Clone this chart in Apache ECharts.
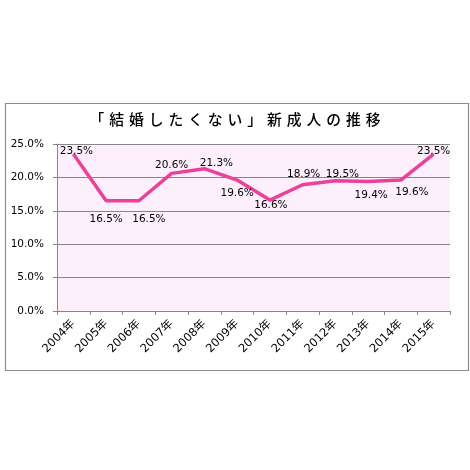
<!DOCTYPE html>
<html>
<head>
<meta charset="utf-8">
<script src="https://cdn.jsdelivr.net/npm/echarts@6/dist/echarts.min.js"></script>
<style>
  html, body { margin: 0; padding: 0; background: #fff; }
  #chart { width: 470px; height: 470px; }
</style>
</head>
<body>
<div id="chart"></div>
<script>
const titleChars = '「結婚したくない」新成人の推移';
const years = ['2004年', '2005年', '2006年', '2007年', '2008年', '2009年', '2010年', '2011年', '2012年', '2013年', '2014年', '2015年'];
const rates = [23.5, 16.5, 16.5, 20.6, 21.3, 19.6, 16.6, 18.9, 19.5, 19.4, 19.6, 23.5];
// where each value label sits relative to its point
const labelSides = ['top', 'bottom', 'bottom', 'top', 'top', 'bottom', 'bottom', 'top', 'top', 'bottom', 'bottom', 'top'];
const labelGaps = [-3, 12, 12, 2, -1, 7, -1, 4, 0, 8, 6, -3];
const labelShifts = [3, 0, 10, 0, 12, 0, 1, 1, 7, 3, 11, 0];

const chart = echarts.init(document.getElementById('chart'));
const labelFont = 'DejaVu Sans, Verdana, sans-serif';

chart.setOption({
    backgroundColor: '#FFFFFF',
    animation: false,
    title: {
        // spaced out like the original title (three-per-em spaces)
        text: titleChars.split('').join('\u2004'), left: 'center', top: 107,
        textStyle: { fontFamily: 'Noto Sans CJK JP', fontSize: 14.8, fontWeight: 500, color: '#000' }
    },
    graphic: [{
        type: 'rect', left: 3, top: 101, z: -1,
        shape: { width: 463, height: 267 },
        style: { fill: 'none', stroke: '#8c8c8c', lineWidth: 1.2 }
    }],
    grid: { left: 57, right: 20, top: 144, bottom: 159, show: true, backgroundColor: '#FDF0FC', borderWidth: 0 },
    xAxis: {
        type: 'category', data: years, boundaryGap: true,
        axisLine: { lineStyle: { color: '#868686', width: 1 } },
        axisTick: { show: true, length: 4, alignWithLabel: false, lineStyle: { color: '#868686' } },
        axisLabel: { rotate: 45, interval: 0, margin: 11, fontSize: 11.5, color: '#000', fontFamily: 'DejaVu Sans, Noto Sans CJK JP' }
    },
    yAxis: {
        type: 'value', min: 0, max: 25, interval: 5,
        axisLine: { show: true, lineStyle: { color: '#868686', width: 1 } },
        axisTick: { show: true, length: 4, lineStyle: { color: '#868686' } },
        splitLine: { lineStyle: { color: '#868686', width: 1 } },
        axisLabel: { formatter: v => v.toFixed(1) + '%', fontSize: 10.5, color: '#000', margin: 13, fontFamily: labelFont }
    },
    series: [{
        type: 'line', symbol: 'circle', symbolSize: 1, showSymbol: true,
        itemStyle: { color: 'rgba(0,0,0,0)' },
        lineStyle: { color: '#EA4199', width: 3.5 },
        data: rates.map((v, i) => ({
            value: v,
            label: { show: true, position: labelSides[i], distance: labelGaps[i], offset: [labelShifts[i], 0] }
        })),
        label: { show: true, formatter: p => p.value.toFixed(1) + '%', fontSize: 10.5, color: '#000', fontFamily: labelFont }
    }]
});
</script>
</body>
</html>
